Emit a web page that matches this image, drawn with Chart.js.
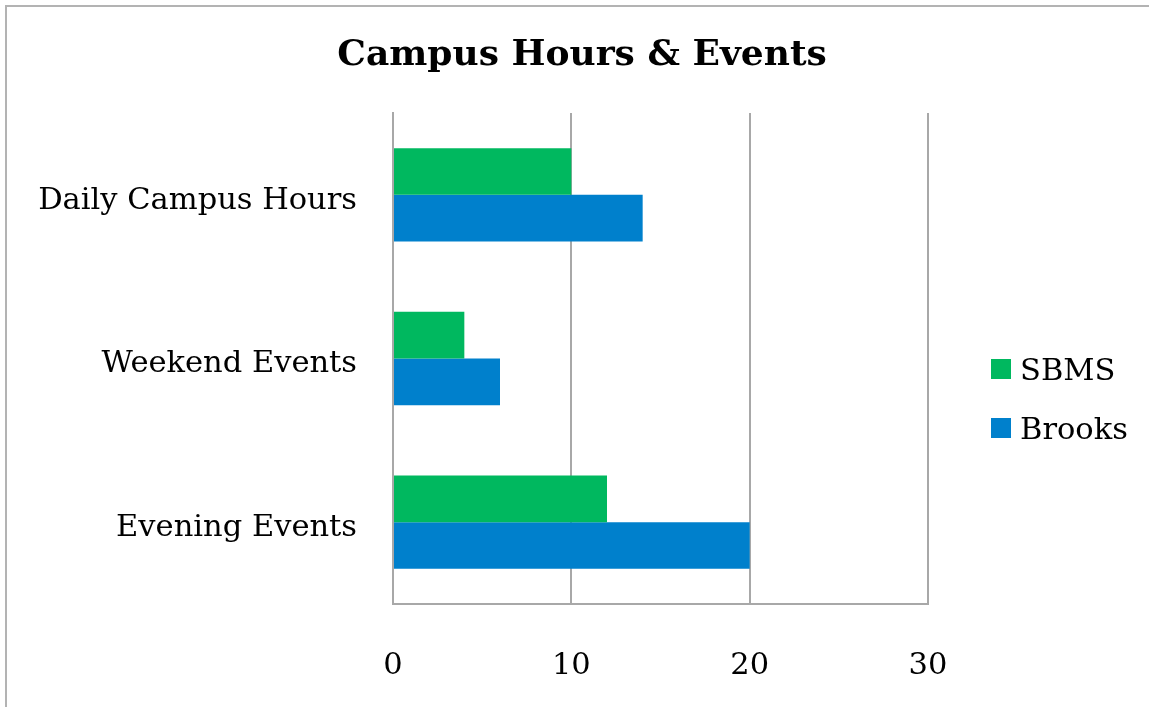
<!DOCTYPE html>
<html lang="en">
<head>
    <meta charset="UTF-8">
    <title>Campus Hours & Events</title>
    <script src="https://cdn.jsdelivr.net/npm/chart.js"></script>
    <style>
        body { margin: 0; background: #fff; }
        .wrap { position: relative; width: 1149px; height: 707px; overflow: hidden; }
        .frame {
            position: absolute; left: 5px; top: 5px; width: 1300px; height: 800px;
            border-top: 2px solid #b3b3b3; border-left: 2px solid #b3b3b3;
            pointer-events: none;
        }
    </style>
</head>
<body>
    <div class="wrap">
        <canvas id="campusChart" width="1149" height="707"></canvas>
        <div class="frame"></div>
    </div>

    <script>
        const chartTitle = 'Campus Hours & Events';
        const categories = ['Daily Campus Hours', 'Weekend Events', 'Evening Events'];
        const seriesNames = ['SBMS', 'Brooks'];
        const sbmsValues = [10, 4, 12];
        const brooksValues = [14, 6, 20];
        const xTicks = [0, 10, 20, 30];

        const gridGray = '#a8a8a8';
        const labelFont = 'DejaVu Serif';

        // title + legend drawn by hand: chart.js centres the title over the
        // padded area, and the original has it centred on the whole picture
        const sideLegend = {
            id: 'sideLegend',
            afterDraw(chart) {
                const ctx = chart.ctx;
                ctx.save();
                ctx.fillStyle = '#000';
                ctx.textBaseline = 'middle';
                ctx.textAlign = 'center';
                ctx.font = 'bold 36px "' + labelFont + '"';
                ctx.fillText(chartTitle, 582, 56);

                ctx.textAlign = 'left';
                ctx.font = '30.5px "' + labelFont + '"';
                chart.data.datasets.forEach((ds, i) => {
                    const y = 369 + i * 59;
                    ctx.fillStyle = ds.backgroundColor;
                    ctx.fillRect(991, y - 10, 20, 20);
                    ctx.fillStyle = '#000';
                    ctx.fillText(ds.label, 1020, y + 3);
                });
                ctx.restore();
            }
        };

        new Chart(document.getElementById('campusChart'), {
            type: 'bar',
            data: {
                labels: categories,
                datasets: [{
                    label: seriesNames[0],
                    data: sbmsValues,
                    backgroundColor: '#00B85F'
                }, {
                    label: seriesNames[1],
                    data: brooksValues,
                    backgroundColor: '#0080CC'
                }]
            },
            options: {
                indexAxis: 'y',
                responsive: false,
                animation: false,
                layout: { padding: { left: 0, right: 221, top: 113, bottom: 0 } },
                datasets: {
                    bar: { categoryPercentage: 0.57, barPercentage: 1.0 }
                },
                scales: {
                    x: {
                        min: xTicks[0],
                        max: xTicks[xTicks.length - 1],
                        afterBuildTicks: (scale) => { scale.ticks = xTicks.map(v => ({ value: v })); },
                        afterFit: (scale) => { scale.height = 103; },
                        grid: { color: gridGray, lineWidth: 2, drawTicks: false },
                        border: { display: true, color: gridGray, width: 2 },
                        ticks: {
                            padding: 44,
                            color: '#000',
                            font: { family: labelFont, size: 30.5 }
                        }
                    },
                    y: {
                        afterFit: (scale) => { scale.width = 393; },
                        grid: { display: false, drawTicks: false },
                        border: { display: true, color: gridGray, width: 2 },
                        ticks: {
                            padding: 36,
                            labelOffset: 6,
                            color: '#000',
                            font: { family: labelFont, size: 30.5 }
                        }
                    }
                },
                plugins: {
                    legend: { display: false },
                    tooltip: { enabled: false },
                    title: { display: false }
                }
            },
            plugins: [sideLegend]
        });
    </script>
</body>
</html>
